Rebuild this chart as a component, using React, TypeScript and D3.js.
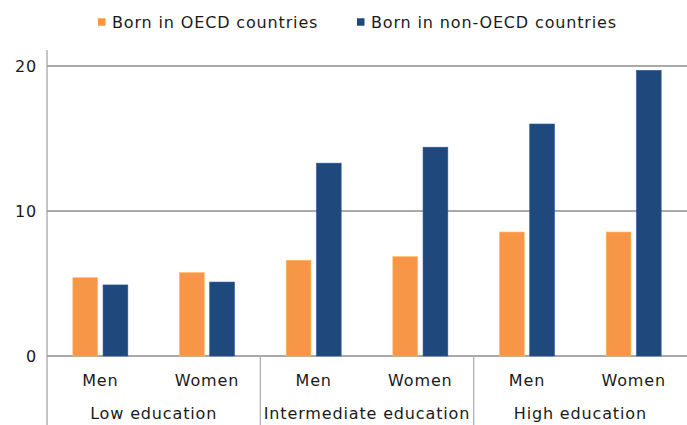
import React from 'react'
import * as d3 from 'd3'

const groups = ['Low education', 'Intermediate education', 'High education']
const genders = ['Men', 'Women']
const seriesNames = ['Born in OECD countries', 'Born in non-OECD countries']
const oecd = [5.4, 5.75, 6.6, 6.85, 8.55, 8.55]
const nonOecd = [4.9, 5.1, 13.3, 14.4, 16.0, 19.7]
const yTicks = [0, 10, 20]
const colors = ['#F79646', '#1F497D']

const width = 687
const height = 425
const margin = { top: 50, right: 0, bottom: 69, left: 47 }
const font = 'DejaVu Sans, Verdana, sans-serif'
const textStyle = { fontSize: 16, letterSpacing: '0.85px' }

export default function App() {
	const cats = groups.flatMap(g => genders.map(s => `${g}|${s}`))
	const x = d3
		.scaleBand()
		.domain(cats)
		.range([margin.left, width - margin.right])
	const y = d3
		.scaleLinear()
		.domain([0, 20])
		.range([height - margin.bottom, 66])
	const inner = d3
		.scaleBand()
		.domain(seriesNames)
		.range([x.bandwidth() / 2 - 27.5, x.bandwidth() / 2 + 27.5])
		.paddingInner(0.18)
	const series = [oecd, nonOecd]
	const groupW = x.bandwidth() * genders.length

	return (
		<svg width={width} height={height} style={{ position: 'absolute', left: 0, top: 0 }} fontFamily={font}>
			{yTicks.map(t => (
				<g key={t}>
					<line x1={margin.left} x2={width} y1={y(t)} y2={y(t)} stroke="#8c8c8c" strokeWidth={1.3} />
					<text x={37} y={y(t)} dy="0.36em" textAnchor="end" style={textStyle} fill="#1a1a1a">
						{t}
					</text>
				</g>
			))}
			<line x1={margin.left} x2={margin.left} y1={margin.top} y2={height} stroke="#a6a6a6" strokeWidth={1.3} />
			{groups.map((g, i) =>
				i > 0 ? (
					<line
						key={g}
						x1={margin.left + i * groupW}
						x2={margin.left + i * groupW}
						y1={y(0)}
						y2={height}
						stroke="#b0b0b0"
						strokeWidth={1.3}
					/>
				) : null
			)}
			{cats.map((c, ci) =>
				series.map((vals, si) => (
					<rect
						key={c + si}
						x={(x(c) ?? 0) + (inner(seriesNames[si]) ?? 0)}
						y={y(vals[ci])}
						width={inner.bandwidth()}
						height={y(0) - y(vals[ci])}
						fill={colors[si]}
						stroke={d3.color(colors[si])?.brighter(0.6).toString()}
						strokeWidth={0.6}
					/>
				))
			)}
			{cats.map(c => (
				<text
					key={c}
					x={(x(c) ?? 0) + x.bandwidth() / 2}
					y={386}
					textAnchor="middle"
					style={textStyle}
					fill="#1a1a1a"
				>
					{c.split('|')[1]}
				</text>
			))}
			{groups.map((g, i) => (
				<text
					key={g}
					x={margin.left + (i + 0.5) * groupW}
					y={419}
					textAnchor="middle"
					style={textStyle}
					fill="#1a1a1a"
				>
					{g}
				</text>
			))}
			{seriesNames.map((s, i) => (
				<g key={s} transform={`translate(${[98, 357][i]},22)`}>
					<rect x={0} y={-3.75} width={7.5} height={7.5} fill={colors[i]} />
					<text x={14} y={6.3} style={textStyle} fill="#1a1a1a">
						{s}
					</text>
				</g>
			))}
		</svg>
	)
}
